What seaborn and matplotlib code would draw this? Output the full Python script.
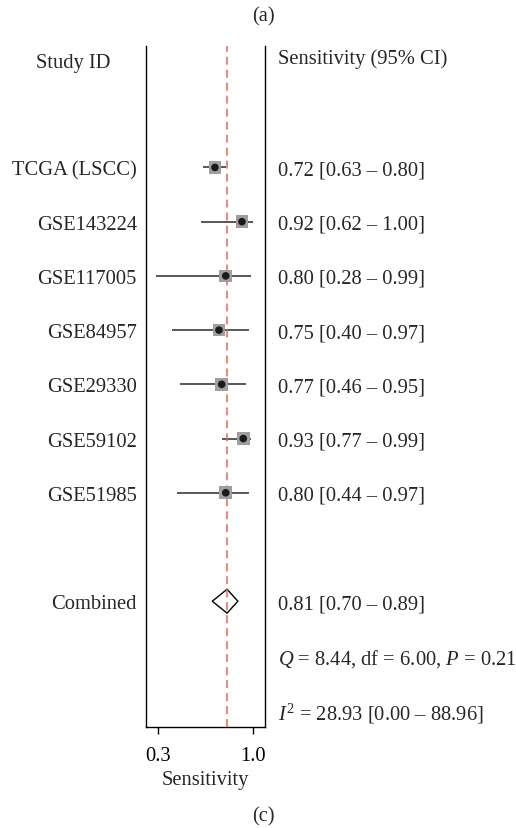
import matplotlib
matplotlib.use("Agg")
import matplotlib.pyplot as plt
import matplotlib.transforms as mtransforms
import numpy as np
import pandas as pd
import seaborn as sns

# Study-level sensitivity estimates with 95% confidence intervals
studies = ["TCGA (LSCC)", "GSE143224", "GSE117005", "GSE84957",
           "GSE29330", "GSE59102", "GSE51985"]
sens = [0.72, 0.92, 0.80, 0.75, 0.77, 0.93, 0.80]
ci_low = [0.63, 0.62, 0.28, 0.40, 0.46, 0.77, 0.44]
ci_high = [0.80, 1.00, 0.99, 0.97, 0.95, 0.99, 0.97]

# Pooled estimate and heterogeneity statistics
pooled = 0.81
pooled_low = 0.70
pooled_high = 0.89
q_stat = 8.44
q_df = 6.00
q_p = 0.21
i2 = 28.93
i2_low = 0.00
i2_high = 88.96

x_ticks = [0.3, 1.0]

sns.set_style("white")
plt.rcParams["font.family"] = ["Liberation Serif", "DejaVu Serif"]
plt.rcParams["mathtext.fontset"] = "custom"
plt.rcParams["mathtext.rm"] = "Liberation Serif"
plt.rcParams["mathtext.it"] = "Liberation Serif:italic"

FS = 14.8
W, H = 516, 829
fig = plt.figure(figsize=(W / 100, H / 100), dpi=100)
ax = fig.add_axes([146 / W, 1 - 728 / H, 119 / W, 681 / H])

row0 = 2
df = pd.DataFrame({
    "study": studies,
    "sens": sens,
    "lo": ci_low,
    "hi": ci_high,
    "row": np.arange(len(studies)) + row0,
})
pooled_row = row0 + len(studies) + 1

# confidence interval whiskers
ax.hlines(df["row"], df["lo"], df["hi"], color="#2a2a2a", lw=1.1, zorder=2)
# weight squares and point estimates
sns.scatterplot(data=df, x="sens", y="row", marker="s", s=82, color="#9e9e9e",
                edgecolor="none", ax=ax, zorder=4, legend=False)
sns.scatterplot(data=df, x="sens", y="row", marker="o", s=30, color="#1a1a1a",
                edgecolor="none", ax=ax, zorder=5, legend=False)

# pooled diamond
dh = 0.22
ax.fill([pooled_low, pooled, pooled_high, pooled],
        [pooled_row, pooled_row - dh, pooled_row, pooled_row + dh],
        facecolor="white", edgecolor="black", lw=1.0, zorder=2)

# reference line at the pooled estimate
ax.axvline(pooled, color="#f2644c", lw=1.1, dashes=(5.2, 3.3), zorder=3)

ax.set_xlim(0.209, 1.091)
ax.set_ylim(12.32, -0.24)
ax.set_yticks([])
ax.set_xticks(x_ticks)
ax.set_xticklabels([f"{t:.1f}" for t in x_ticks], fontsize=FS)
ax.tick_params(axis="x", direction="out", length=5, width=1.0, pad=9,
               colors="black", bottom=True)
ax.set_xlabel("Sensitivity", fontsize=FS, labelpad=3)
ax.set_ylabel("")
for side in ["left", "right", "bottom"]:
    ax.spines[side].set_visible(True)
    ax.spines[side].set_color("black")
    ax.spines[side].set_linewidth(1.0)
ax.spines["top"].set_visible(False)

tr = mtransforms.blended_transform_factory(fig.transFigure, ax.transData)
left_x = 137 / W
right_x = 278 / W
VA = "center_baseline"

ax.text(36 / W, 0.02, "Study ID", transform=tr, fontsize=FS, ha="left", va=VA)
ax.text(right_x, -0.06, "Sensitivity (95% CI)", transform=tr, fontsize=FS,
        ha="left", va=VA)

for _, r in df.iterrows():
    ax.text(left_x, r["row"], r["study"], transform=tr, fontsize=FS,
            ha="right", va=VA)
    ax.text(right_x, r["row"], f"{r['sens']:.2f} [{r['lo']:.2f} \u2013 {r['hi']:.2f}]",
            transform=tr, fontsize=FS, ha="left", va=VA)

ax.text(left_x, pooled_row, "Combined", transform=tr, fontsize=FS,
        ha="right", va=VA)
ax.text(right_x, pooled_row, f"{pooled:.2f} [{pooled_low:.2f} \u2013 {pooled_high:.2f}]",
        transform=tr, fontsize=FS, ha="left", va=VA)
ax.text(right_x, pooled_row + 1,
        f"$Q$ = {q_stat:.2f}, df = {q_df:.2f}, $P$ = {q_p:.2f}",
        transform=tr, fontsize=FS, ha="left", va=VA)
ax.text(right_x, pooled_row + 2,
        f"$I^2$ = {i2:.2f} [{i2_low:.2f} \u2013 {i2_high:.2f}]",
        transform=tr, fontsize=FS, ha="left", va=VA)

fig.text(263 / W, 1 - 17 / H, "(a)", fontsize=FS, ha="center", va="center")
fig.text(263 / W, 1 - 817 / H, "(c)", fontsize=FS, ha="center", va="center")

fig.savefig("out.png", dpi=100, facecolor="white")
